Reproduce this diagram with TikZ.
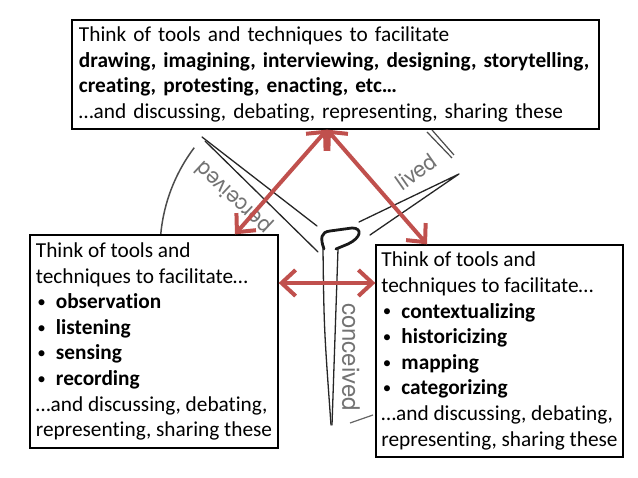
\documentclass[tikz,border=0pt]{standalone}
\usepackage{fontspec}
\setmainfont{Carlito}[Ligatures=NoCommon]
\newfontfamily\sketchfont{TeX Gyre Heros}
\usetikzlibrary{arrows.meta}
\definecolor{arrowred}{RGB}{192,80,77}
\newcommand\bul[1]{\makebox[20bp][l]{\hspace{1.5bp}\raisebox{1.2bp}{\fontsize{17bp}{17bp}\selectfont •}}\textbf{#1}}
\begin{document}
\begin{tikzpicture}[x=1bp,y=1bp,
  textbox/.style={draw=black, line width=1.3bp, fill=white, inner sep=0pt, align=left,
    font=\fontsize{21.3bp}{25.6bp}\selectfont},
  blade/.style={draw=black!85, line width=1.3bp, line cap=round, line join=round},
  sketchlabel/.style={font=\sketchfont\fontsize{22bp}{24bp}\selectfont, text=black!55, inner sep=0pt},
  link/.style={draw=arrowred, line width=4bp,
    {Straight Barb[length=14bp,width=26bp]}-{Straight Barb[length=14bp,width=26bp]}}
]
\fill[white] (0,0) rectangle (638,478);
\useasboundingbox (0,0) rectangle (638,478);

% background sketch
\draw[blade] (202,341) -- (317,252);
\draw[blade] (205,337) -- (318,226);
\draw[draw=black!90, line width=2.8bp, line join=round, line cap=round]
  (324,229) .. controls (320,240) and (321,246) .. (330,247) -- (352,250)
  .. controls (363,250) and (361,240) .. (348,234) -- (336,229);
\draw[blade] (323,229) .. controls (324,150) .. (331,53);
\draw[blade] (338,229) -- (332,53);
\draw[blade] (359,256) -- (459,304) -- (370,243);
\draw[black!70, line width=1.5bp] (330,228) ++(143:170) arc[start angle=143, end angle=200, radius=170];
\draw[black!60, line width=1.2bp] (350,55) -- (373,63);
\draw[black!70, line width=1.2bp] (427,346) -- (452,320);
\draw[black!70, line width=1.2bp] (432,348) -- (454,323);
\node[sketchlabel, rotate=137] (perc) at (234,281) {perceived};
\node[sketchlabel, rotate=35] (liv) at (416,306) {lived};
\node[sketchlabel, rotate=-90, font=\sketchfont\fontsize{24bp}{26bp}\selectfont] (conc) at (351,121) {conceived};

% text boxes
\node[textbox, text width=513bp, inner xsep=7bp, minimum height=109bp] (top) at (335.5,403.5)
  {Think of tools and techniques to facilitate\\
   \textbf{drawing, imagining, interviewing, designing, storytelling,}\\
   \textbf{creating, protesting, enacting, etc…}\\
   …and discussing, debating, representing, sharing these};
\node[textbox, minimum width=248bp, minimum height=213bp] (lbox) at (154,136.5)
  {Think of tools and\\
   techniques to facilitate…\\
   \bul{observation}\\
   \bul{listening}\\
   \bul{sensing}\\
   \bul{recording}\\
   …and discussing, debating,\\
   representing, sharing these};
\node[textbox, minimum width=247bp, minimum height=212bp] (rbox) at (499.5,127)
  {Think of tools and\\
   techniques to facilitate…\\
   \bul{contextualizing}\\
   \bul{historicizing}\\
   \bul{mapping}\\
   \bul{categorizing}\\
   …and discussing, debating,\\
   representing, sharing these};

% arrows
\coordinate (apex) at ([xshift=-8.5bp]top.south);
\coordinate (ltip) at ([xshift=81bp]lbox.north);
\coordinate (rtip) at ([xshift=-72.5bp]rbox.north);
\coordinate (hl) at ([yshift=58.5bp]lbox.east);
\coordinate (hr) at (rbox.west |- hl);
\draw[link] (apex) -- (ltip);
\draw[link] (apex) -- (rtip);
\draw[link] (hl) -- (hr);
\end{tikzpicture}
\end{document}
